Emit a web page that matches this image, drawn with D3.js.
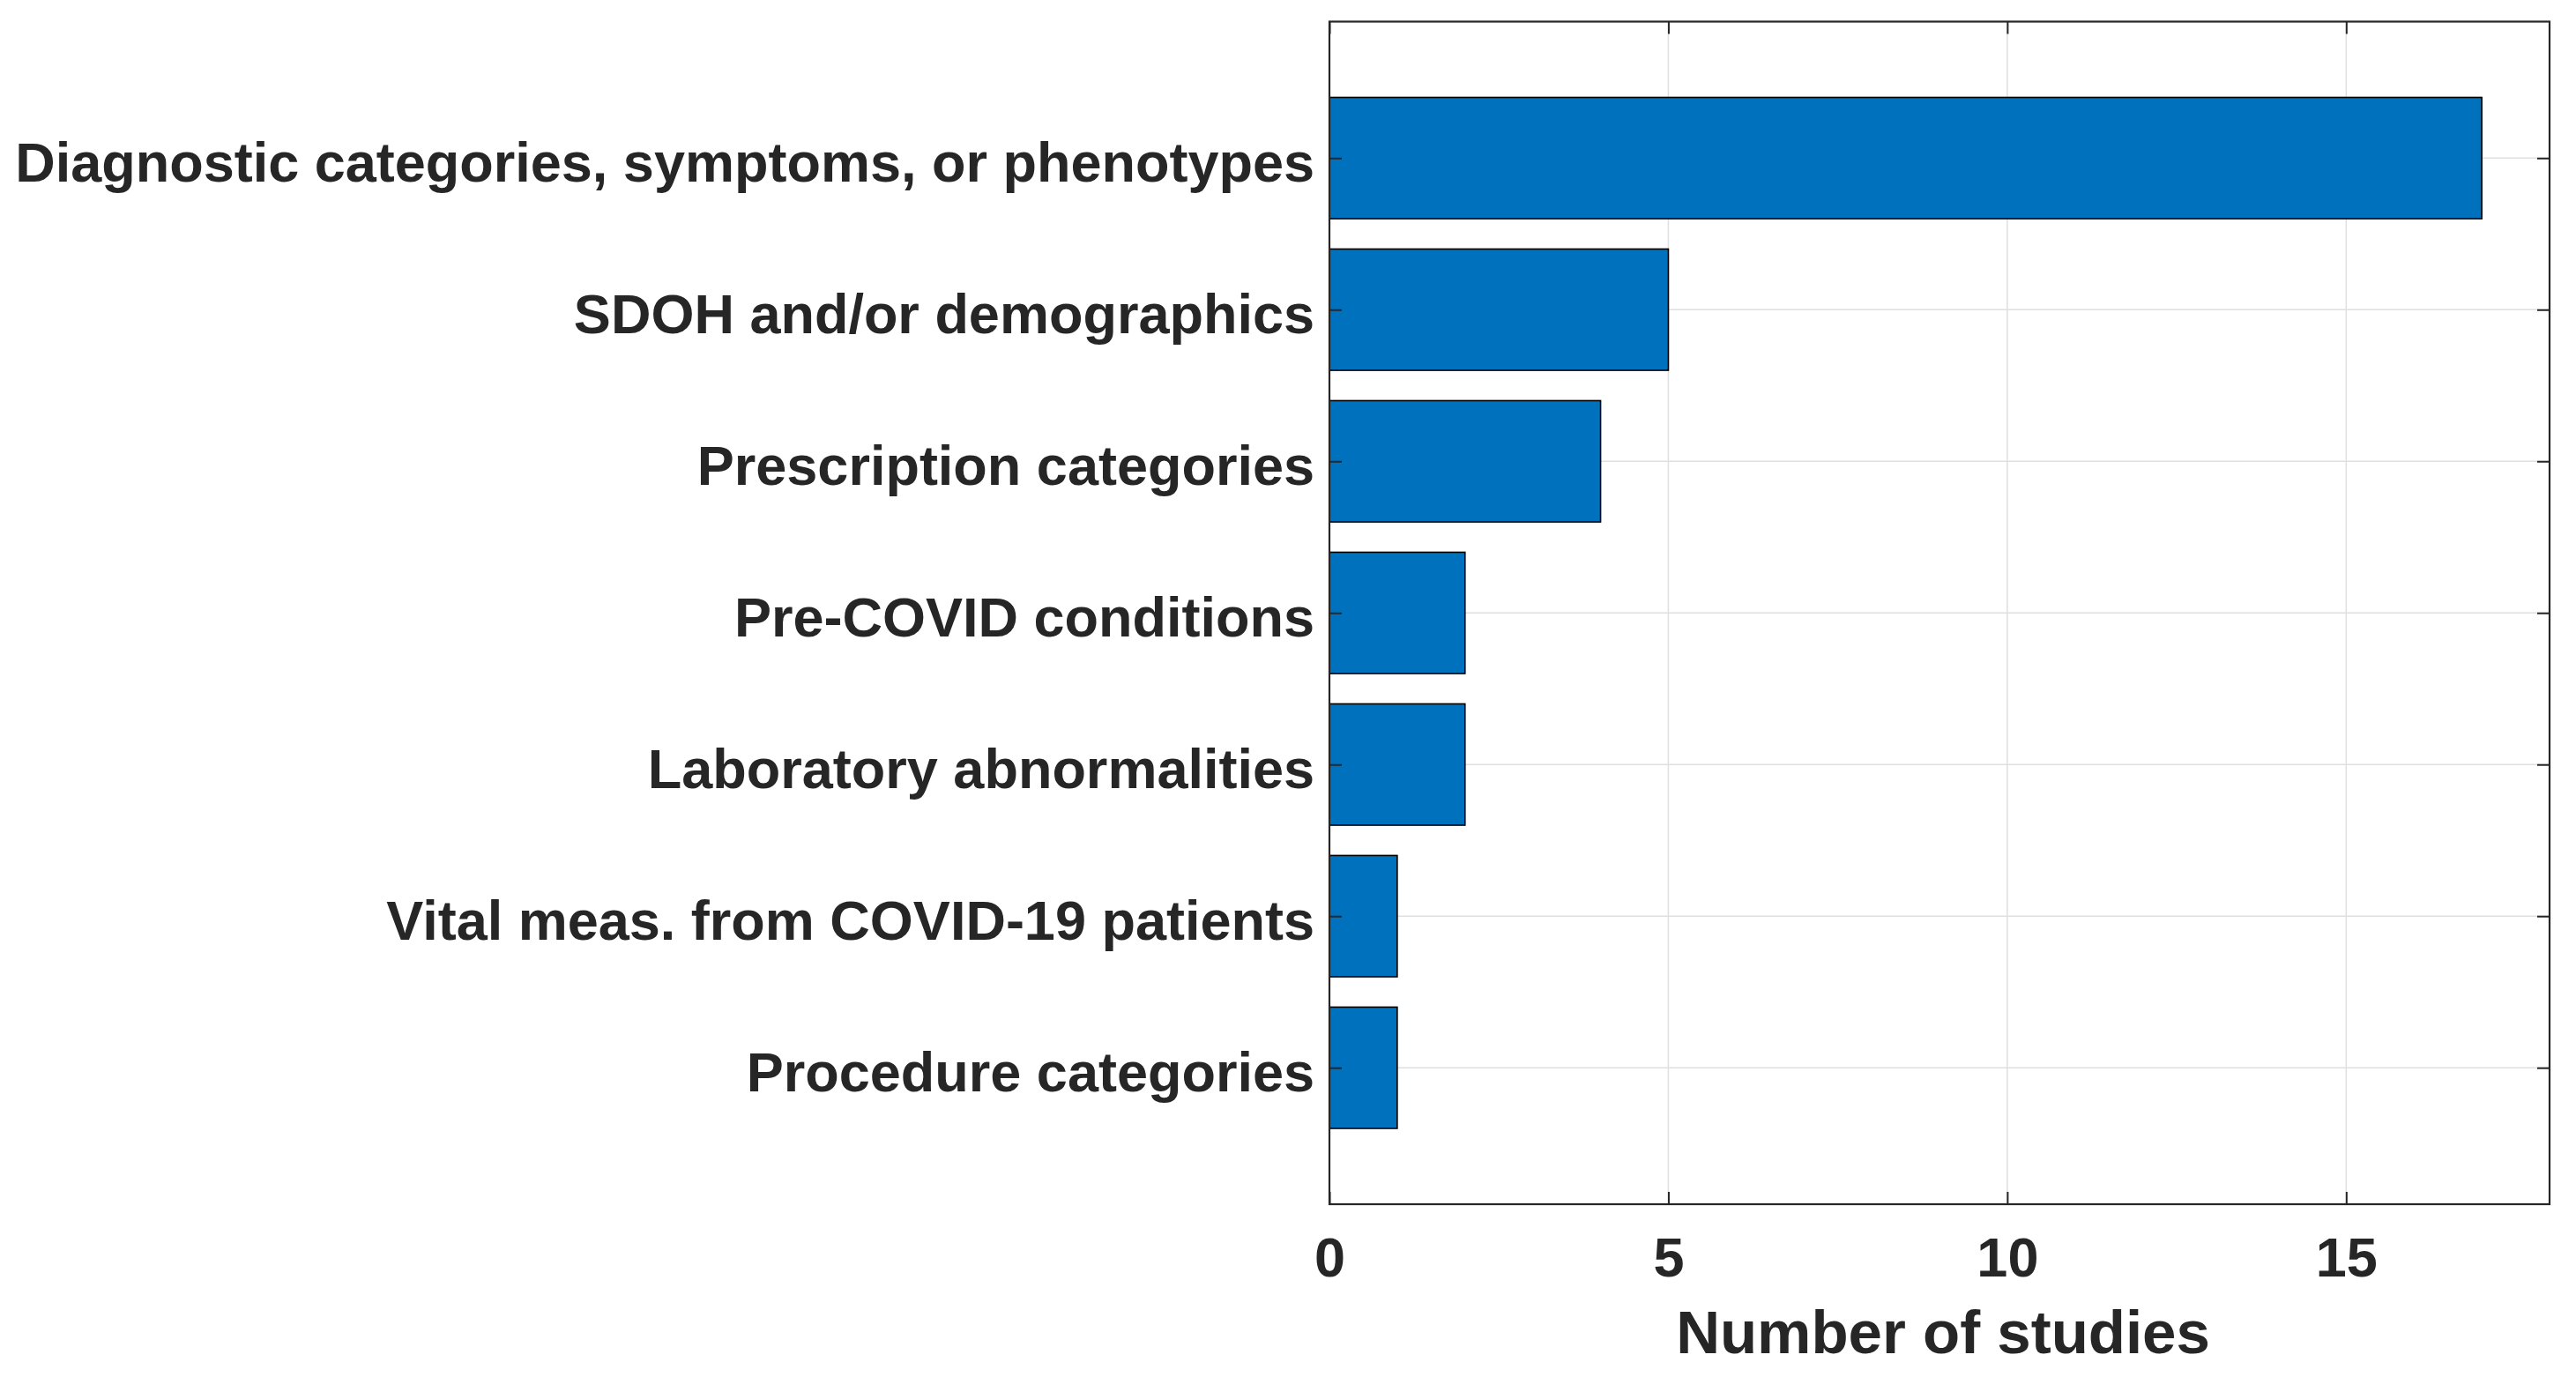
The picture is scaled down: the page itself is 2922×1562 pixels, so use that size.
<!DOCTYPE html>
<html><head><meta charset="utf-8">
<script src="https://cdn.jsdelivr.net/npm/d3@7"></script>
<style>html,body{margin:0;padding:0;background:#fff;}svg{display:block;}</style>
</head><body>
<svg id="chart" width="2922" height="1562"></svg>
<script>
const categories = [
  "Diagnostic categories, symptoms, or phenotypes",
  "SDOH and/or demographics",
  "Prescription categories",
  "Pre-COVID conditions",
  "Laboratory abnormalities",
  "Vital meas. from COVID-19 patients",
  "Procedure categories"
];
const values = [17, 5, 4, 2, 2, 1, 1];
const xTicks = [0, 5, 10, 15];
const xLabel = "Number of studies";

const L = 1508, R = 2892, T = 24.5, B = 1366;
const svg = d3.select("#chart");
const x = d3.scaleLinear().domain([0, 18]).range([L, R]);
const y = d3.scaleLinear().domain([0.1, 7.9]).range([T, B]);
const idx = categories.map((c, i) => i + 1);
const barH = (y(1.8) - y(1)) ;
const ink = "#262626";
const font = "'Liberation Sans', Arial, Helvetica, sans-serif";

// grid
const grid = svg.append("g").attr("stroke", "#dfdfdf").attr("stroke-width", 1.5);
grid.selectAll("line.vx").data(xTicks.filter(t => t > 0)).join("line")
  .attr("x1", d => x(d)).attr("x2", d => x(d)).attr("y1", T).attr("y2", B);
grid.selectAll("line.hy").data(idx).join("line")
  .attr("x1", L).attr("x2", R).attr("y1", d => y(d)).attr("y2", d => y(d));

// bars
svg.append("g").selectAll("rect").data(values).join("rect")
  .attr("x", x(0))
  .attr("y", (d, i) => y(i + 1) - barH / 2)
  .attr("width", d => x(d) - x(0))
  .attr("height", barH)
  .attr("fill", "#0072BD")
  .attr("stroke", "#000")
  .attr("stroke-width", 1.6);

// axes (ticks inside, mirrored)
const tl = 14;
const axB = d3.axisBottom(x).tickValues(xTicks).tickSize(-tl).tickFormat(d3.format("d")).tickPadding(36);
const axT = d3.axisTop(x).tickValues(xTicks).tickSize(-tl).tickFormat("");
const axL = d3.axisLeft(y).tickValues(idx).tickSize(-tl).tickFormat(i => categories[i - 1]).tickPadding(17);
const axR = d3.axisRight(y).tickValues(idx).tickSize(-tl).tickFormat("");

function style(g) {
  g.select(".domain").remove();
  g.selectAll(".tick line").attr("stroke", ink).attr("stroke-width", 2);
  g.selectAll(".tick text").attr("fill", ink).style("font-family", font)
    .style("font-weight", "bold").style("font-size", "63px");
}
const gB = svg.append("g").attr("transform", `translate(0,${B})`).call(axB).call(style);
gB.selectAll(".tick text").attr("y", 1448 - B).attr("dy", "0");
svg.append("g").attr("transform", `translate(0,${T})`).call(axT).call(style);
const gL = svg.append("g").attr("transform", `translate(${L},0)`).call(axL).call(style);
gL.selectAll(".tick text").attr("dy", "0.42em");
svg.append("g").attr("transform", `translate(${R},0)`).call(axR).call(style);

// box
svg.append("rect").attr("x", L).attr("y", T).attr("width", R - L).attr("height", B - T)
  .attr("fill", "none").attr("stroke", ink).attr("stroke-width", 2.2);

// x label
svg.append("text").attr("x", (L + R) / 2 + 4).attr("y", 1535)
  .attr("text-anchor", "middle").attr("fill", ink)
  .style("font-family", font).style("font-weight", "bold").style("font-size", "69px")
  .text(xLabel);
</script>
</body></html>
